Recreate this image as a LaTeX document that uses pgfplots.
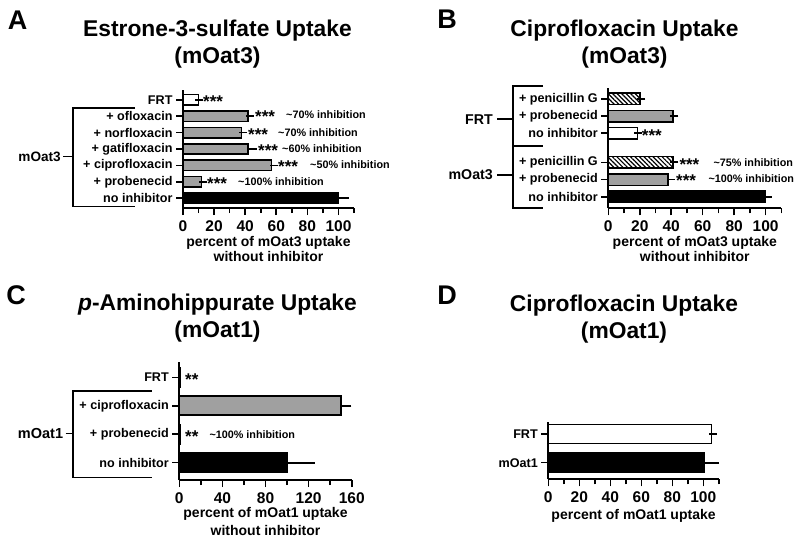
\documentclass[border=0pt]{standalone}
\usepackage{fontspec}
\setmainfont{Liberation Sans}
\usepackage{pgfplots}
\pgfplotsset{compat=1.18}
\usetikzlibrary{patterns.meta}
\definecolor{bargray}{RGB}{160,160,160}
\pgfplotsset{
  panel/.style={
    scale only axis,
    xbar, bar shift=0pt,
    axis x line*=bottom, axis y line*=left,
    axis line style={line width=1.8pt, black},
    every tick/.style={line width=1.6pt, black},
    tick align=outside,
    major tick length=7pt, minor tick length=5pt,
    xmin=0,
    /pgf/number format/assume math mode=true,
    xticklabel style={font=\fontsize{15.5}{15}\selectfont\bfseries, yshift=-2pt},
    yticklabel style={font=\fontsize{12.6}{14}\selectfont\bfseries},
    xlabel style={font=\fontsize{14}{15}\selectfont\bfseries, align=center, at={(axis description cs:0.5,0)}, anchor=north, inner sep=0pt},
    clip=false,
  },
  eb/.style={error bars/.cd, x dir=plus, x explicit,
    error bar style={line width=1.7pt, black},
    error mark options={mark size=4pt, line width=1.7pt, black}},
  wbar/.style={fill=white, draw=black, line width=1.6pt},
  gbar/.style={fill=bargray, draw=black, line width=1.6pt},
  kbar/.style={fill=black, draw=black, line width=1.6pt},
  hbar/.style={pattern={Lines[angle=-45,distance=3.2pt,line width=1.2pt]}, draw=black, line width=1.6pt},
}
\newcommand{\stars}[3]{\node[anchor=base west, inner sep=0pt, font=\fontsize{17}{17}\selectfont\bfseries] at (#1pt,{-(#2+8)*1pt}) {#3};}
\newcommand{\inh}[3]{\node[anchor=base west, inner sep=0pt, font=\fontsize{10.8}{12}\selectfont\bfseries] at (#1pt,{-(#2+4)*1pt}) {\textasciitilde#3\% inhibition};}
\begin{document}
\begin{tikzpicture}
\useasboundingbox (0pt,0pt) rectangle (800pt,-540pt);
% ---------------- Panel A
\begin{axis}[panel, at={(183pt,-208pt)}, anchor=south west, width=171pt, height=118pt,
  xmax=110, ymin=-0.6, ymax=6.6,
  xtick={0,20,...,100}, minor xtick={10,30,...,110},
  ytick={0,...,6},
  yticklabels={no inhibitor,+ probenecid,+ ciprofloxacin,+ gatifloxacin,+ norfloxacin,+ ofloxacin,FRT},
  bar width=10.5pt,
  xlabel={percent of mOat3 uptake\\without inhibitor},
  xlabel style={yshift=-27.8pt}]
\addplot[wbar, eb] coordinates {(10,6) +- (0.5,0)};
\addplot[gbar, eb] coordinates {(42,5) +- (1,0) (37.7,4) +- (1,0) (42,3) +- (3,0) (57,2) +- (1.5,0) (12,1) +- (1,0)};
\addplot[kbar, eb] coordinates {(100,0) +- (4,0)};
\end{axis}
% ---------------- Panel B
\begin{axis}[panel, at={(608.3pt,-208.3pt)}, anchor=south west, width=173pt, height=120.3pt,
  xmax=110, ymin=-0.67, ymax=6.32,
  xtick={0,20,...,100}, minor xtick={10,30,...,110},
  ytick={0,1,2,3.69,4.69,5.69},
  yticklabels={no inhibitor,+ probenecid,+ penicillin G,no inhibitor,+ probenecid,+ penicillin G},
  bar width=11.5pt,
  xlabel={percent of mOat3 uptake\\without inhibitor},
  xlabel style={yshift=-27.8pt}]
\addplot[kbar, eb] coordinates {(100,0) +- (1.5,0)};
\addplot[gbar, eb] coordinates {(38,1) +- (2,0) (41,4.69) +- (1,0)};
\addplot[hbar, eb] coordinates {(41,2) +- (1,0) (20,5.69) +- (1,0)};
\addplot[wbar, eb] coordinates {(18.5,3.69) +- (0.5,0)};
\end{axis}
% ---------------- Panel C
\begin{axis}[panel, at={(179.3pt,-480pt)}, anchor=south west, width=172.4pt, height=118.3pt,
  xmax=160, ymin=-0.61, ymax=3.55,
  xtick={0,40,...,160}, minor xtick={20,60,...,140},
  ytick={0,...,3},
  yticklabels={no inhibitor,+ probenecid,+ ciprofloxacin,FRT},
  bar width=19pt,
  xlabel={percent of mOat1 uptake\\without inhibitor},
  xlabel style={yshift=-27.1pt, font=\fontsize{14}{18.4}\selectfont\bfseries}]
\addplot[kbar, eb] coordinates {(100,0) +- (22,0)};
\addplot[gbar, eb] coordinates {(150,2) +- (6,0)};
\addplot[gbar] coordinates {(0.5,1)};
\addplot[wbar] coordinates {(0.5,3)};
\end{axis}
% ---------------- Panel D
\begin{axis}[panel, at={(548.3pt,-479.3pt)}, anchor=south west, width=170.5pt, height=57.6pt,
  xmax=110, ymin=-0.58, ymax=1.43,
  xtick={0,20,...,100}, minor xtick={10,30,...,110},
  ytick={0,1},
  yticklabels={mOat1,FRT},
  bar width=19pt,
  xlabel={percent of mOat1 uptake},
  xlabel style={yshift=-29.5pt}]
\addplot[kbar, eb] coordinates {(100.6,0) +- (7,0)};
\addplot[wbar, eb] coordinates {(105.4,1) +- (0.8,0)};
\end{axis}
% ---------------- brackets
\draw[line width=1.6pt] (135pt,-108.3pt) -- (72.7pt,-108.3pt) -- (72.7pt,-206.7pt) -- (135pt,-206.7pt);
\draw[line width=1.6pt] (63pt,-156.7pt) -- (72.7pt,-156.7pt);
\node[anchor=east, inner sep=0pt, font=\fontsize{13.6}{14}\selectfont\bfseries] at (61pt,-156.7pt) {mOat3};
\draw[line width=1.6pt] (543pt,-86pt) -- (512.7pt,-86pt) -- (512.7pt,-208.3pt) -- (543pt,-208.3pt);
\draw[line width=1.6pt] (512.7pt,-146pt) -- (543pt,-146pt);
\draw[line width=1.6pt] (497pt,-119.3pt) -- (512.7pt,-119.3pt);
\draw[line width=1.6pt] (497pt,-175pt) -- (512.7pt,-175pt);
\node[anchor=east, inner sep=0pt, font=\fontsize{14.2}{14}\selectfont\bfseries] at (493pt,-119.3pt) {FRT};
\node[anchor=east, inner sep=0pt, font=\fontsize{14.2}{14}\selectfont\bfseries] at (493pt,-175pt) {mOat3};
\draw[line width=1.6pt] (151.7pt,-390.7pt) -- (72.7pt,-390.7pt) -- (72.7pt,-477.3pt) -- (151.7pt,-477.3pt);
\draw[line width=1.6pt] (65.7pt,-433.3pt) -- (72.7pt,-433.3pt);
\node[anchor=east, inner sep=0pt, font=\fontsize{14.5}{14}\selectfont\bfseries] at (63.3pt,-433.3pt) {mOat1};
% ---------------- annotations
\stars{203}{99.3}{***}
\stars{255}{115}{***}\inh{286}{115}{70}
\stars{248}{132.3}{***}\inh{278}{132.3}{70}
\stars{258}{148.3}{***}\inh{282}{148.3}{60}
\stars{278}{165}{***}\inh{310}{165}{50}
\stars{207}{181.7}{***}\inh{238}{181.7}{100}
\stars{641.7}{133.3}{***}
\stars{679.3}{162.3}{***}\inh{713.3}{162.3}{75}
\stars{676}{179}{***}\inh{708.3}{179}{100}
\stars{185}{377.3}{**}
\stars{185}{434.3}{**}\inh{209.3}{434.3}{100}
% ---------------- titles
\node[align=center, font=\fontsize{22.8}{27}\selectfont\bfseries] at (217.5pt,-44pt) {Estrone-3-sulfate Uptake\\(mOat3)};
\node[align=center, font=\fontsize{22.8}{27}\selectfont\bfseries] at (624.5pt,-44pt) {Ciprofloxacin Uptake\\(mOat3)};
\node[align=center, font=\fontsize{22.8}{27}\selectfont\bfseries] at (217.5pt,-318.5pt) {\textit{p}-Aminohippurate Uptake\\(mOat1)};
\node[align=center, font=\fontsize{22.8}{27}\selectfont\bfseries] at (624pt,-319pt) {Ciprofloxacin Uptake\\(mOat1)};
\node[font=\fontsize{27}{27}\selectfont\bfseries] at (17.5pt,-20pt) {A};
\node[font=\fontsize{27}{27}\selectfont\bfseries] at (447pt,-19.5pt) {B};
\node[font=\fontsize{27}{27}\selectfont\bfseries] at (16pt,-295.5pt) {C};
\node[font=\fontsize{27}{27}\selectfont\bfseries] at (447pt,-295.5pt) {D};
\end{tikzpicture}
\end{document}
